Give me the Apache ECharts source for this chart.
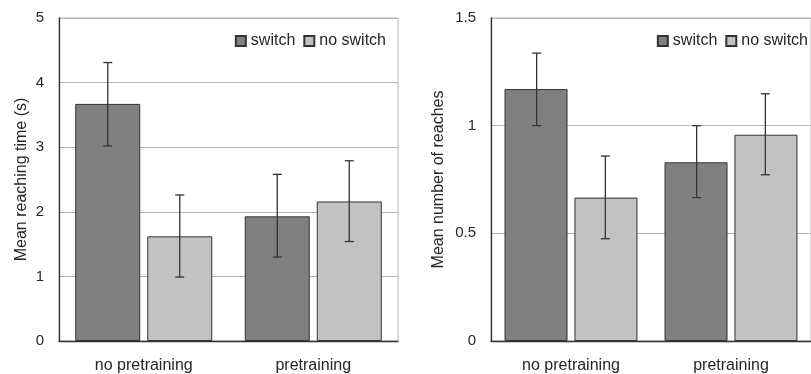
<!DOCTYPE html>
<html><head><meta charset="utf-8">
<script src="https://cdn.jsdelivr.net/npm/echarts@6/dist/echarts.min.js"></script>
<style>html,body{margin:0;padding:0;background:#fff}#c{width:811px;height:374px}</style>
</head><body><div id="c"></div>
<script>
var categories = ['no pretraining', 'pretraining'];
var seriesNames = ['switch', 'no switch'];
// Left chart: mean reaching time (s)
var timeSwitch = [3.67, 1.93];
var timeSwitchLow = [3.02, 1.30];
var timeSwitchHigh = [4.31, 2.58];
var timeNoSwitch = [1.62, 2.16];
var timeNoSwitchLow = [0.99, 1.54];
var timeNoSwitchHigh = [2.26, 2.79];
// Right chart: mean number of reaches
var reachSwitch = [1.17, 0.83];
var reachSwitchLow = [1.00, 0.666];
var reachSwitchHigh = [1.337, 1.00];
var reachNoSwitch = [0.666, 0.958];
var reachNoSwitchLow = [0.475, 0.772];
var reachNoSwitchHigh = [0.859, 1.148];

var DARK = '#808080', LIGHT = '#c2c2c2', EDGE = '#333333', GRID = '#b4b4b4';
var FONT = 'Liberation Sans, Arial, sans-serif';
var TXT = '#262626';

function errData(low, high) {
  return categories.map(function (c, i) { return [i, low[i], high[i]]; });
}
function errSeries(xi, low, high, offsetFrac) {
  return {
    type: 'custom', xAxisIndex: xi, yAxisIndex: xi, z: 5, silent: true,
    data: errData(low, high),
    renderItem: function (params, api) {
      var i = api.value(0);
      var pLo = api.coord([i, api.value(1)]);
      var pHi = api.coord([i, api.value(2)]);
      var bw = api.size([1, 0])[0];
      var x = pLo[0] + bw * offsetFrac;
      var cap = 4.5;
      var st = { stroke: EDGE, lineWidth: 1.3 };
      return { type: 'group', children: [
        { type: 'line', shape: { x1: x, y1: pHi[1], x2: x, y2: pLo[1] }, style: st },
        { type: 'line', shape: { x1: x - cap, y1: pHi[1], x2: x + cap, y2: pHi[1] }, style: st },
        { type: 'line', shape: { x1: x - cap, y1: pLo[1], x2: x + cap, y2: pLo[1] }, style: st }
      ]};
    }
  };
}
function barSeries(name, xi, data, color, bw, gap) {
  return {
    name: name, type: 'bar', xAxisIndex: xi, yAxisIndex: xi, data: data,
    barWidth: bw, barGap: gap,
    itemStyle: { color: color, borderColor: EDGE, borderWidth: 1 }
  };
}
function xAx(gi) {
  return {
    type: 'category', gridIndex: gi, data: categories,
    axisLine: { lineStyle: { color: '#333', width: 1.3 } },
    axisTick: { show: false },
    axisLabel: { color: TXT, fontSize: 16, fontFamily: FONT, margin: 17 }
  };
}
function yAx(gi, max, interval, name, gap, fmt) {
  return {
    type: 'value', gridIndex: gi, min: 0, max: max, interval: interval,
    name: name, nameLocation: 'middle', nameGap: gap, nameRotate: 90,
    nameTextStyle: { color: TXT, fontSize: 16, fontFamily: FONT },
    axisLine: { show: true, lineStyle: { color: '#333', width: 1.3 } },
    axisTick: { show: false },
    axisLabel: { color: TXT, fontSize: 15, fontFamily: FONT, margin: 15, formatter: fmt },
    splitLine: { show: true, lineStyle: { color: GRID, width: 1 } }
  };
}
function legend(right, top) {
  return {
    data: seriesNames, right: right, top: top, icon: 'rect',
    itemWidth: 10, itemHeight: 10, itemGap: 8, padding: 0,
    textStyle: { color: TXT, fontSize: 16, fontFamily: FONT },
    selectedMode: false
  };
}

var chart = echarts.init(document.getElementById('c'), null, { renderer: 'canvas' });
chart.setOption({
  backgroundColor: '#fff',
  animation: false,
  grid: [
    { left: 59, top: 18, width: 339, height: 323, show: true, borderColor: GRID, borderWidth: 1 },
    { left: 491, top: 18, width: 326, height: 323, show: true, borderColor: GRID, borderWidth: 1 }
  ],
  legend: [legend(425, 33), legend(3, 33)],
  xAxis: [xAx(0), xAx(1)],
  yAxis: [
    yAx(0, 5, 1, 'Mean reaching time (s)', 29, function (v) { return String(v); }),
    yAx(1, 1.5, 0.5, 'Mean number of reaches', 44, function (v) { return String(v); })
  ],
  series: [
    barSeries('switch', 0, timeSwitch, DARK, 65, '10.8%'),
    barSeries('no switch', 0, timeNoSwitch, LIGHT, 65, '10.8%'),
    errSeries(0, timeSwitchLow, timeSwitchHigh, -(65 + 7) / 2 / 169.5),
    errSeries(0, timeNoSwitchLow, timeNoSwitchHigh, (65 + 7) / 2 / 169.5),
    barSeries('switch', 1, reachSwitch, DARK, 63, '11%'),
    barSeries('no switch', 1, reachNoSwitch, LIGHT, 63, '11%'),
    errSeries(1, reachSwitchLow, reachSwitchHigh, -(63 + 7) / 2 / 163),
    errSeries(1, reachNoSwitchLow, reachNoSwitchHigh, (63 + 7) / 2 / 163)
  ]
});
</script></body></html>
